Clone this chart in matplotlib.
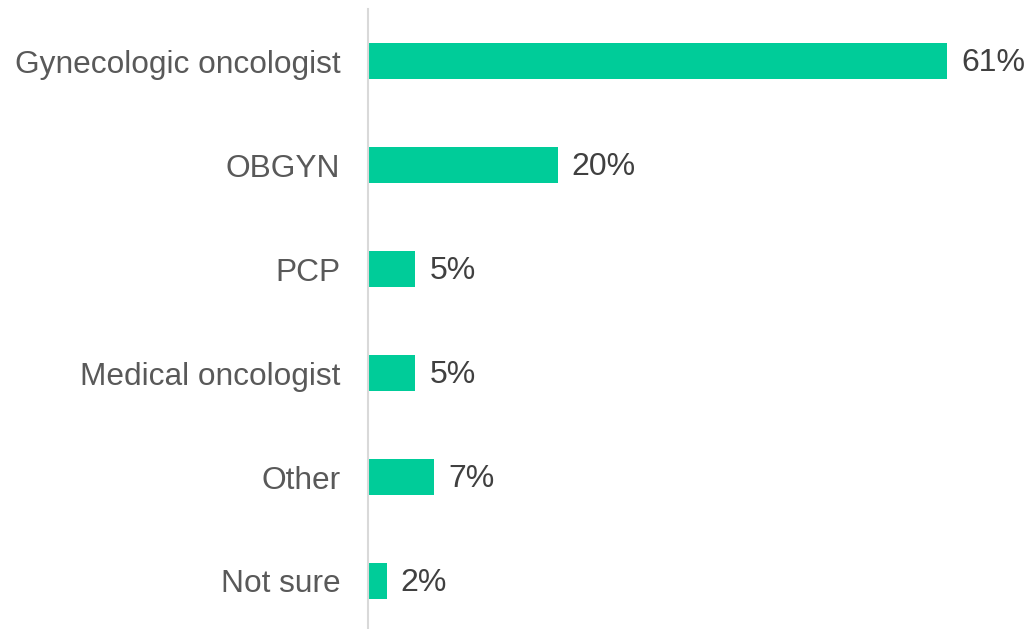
import matplotlib
matplotlib.use("Agg")
import matplotlib.pyplot as plt

categories = ["Gynecologic oncologist", "OBGYN", "PCP", "Medical oncologist", "Other", "Not sure"]
values = [61, 20, 5, 5, 7, 2]
value_labels = ["61%", "20%", "5%", "5%", "7%", "2%"]

plt.rcParams["font.family"] = ["Liberation Sans", "DejaVu Sans"]

W, H = 1031, 629
fig = plt.figure(figsize=(W / 100, H / 100), dpi=100)
ax = fig.add_axes([368 / W, 0, (1030 - 368) / W, 620 / H])

px_per_unit = (947 - 368) / 61.0
ax.set_xlim(0, (1030 - 368) / px_per_unit)
ax.set_ylim(5 + (629 - 581) / 104.0, -0.5)

ypos = list(range(len(categories)))
ax.barh(ypos, values, height=0.35, color="#00CC99")

for y, v, lab in zip(ypos, values, value_labels):
    ax.annotate(lab, (v, y), xytext=(10, -1.5), textcoords="offset points",
                va="center", ha="left", fontsize=23, color="#404040")

ax.set_yticks(ypos)
ax.set_yticklabels(categories, fontsize=22.8, color="#595959")
ax.tick_params(axis="y", length=0, pad=20)
ax.set_xticks([])

for s in ["top", "right", "bottom"]:
    ax.spines[s].set_visible(False)
ax.spines["left"].set_color("#D9D9D9")
ax.spines["left"].set_linewidth(1.5)

fig.savefig("out.png", dpi=100)
